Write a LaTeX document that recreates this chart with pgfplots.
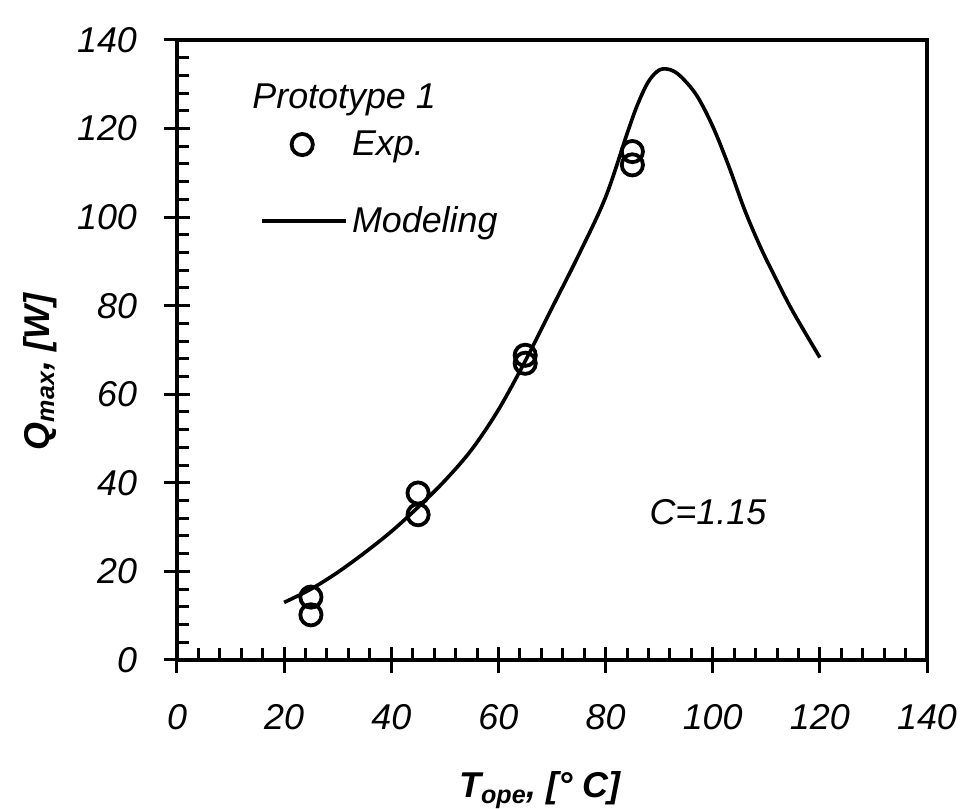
\documentclass[border=0pt]{standalone}
\usepackage{fontspec}
\setmainfont{Liberation Sans}
\usepackage{pgfplots}
\pgfplotsset{compat=1.18}
\pgfplotsset{
  explegend/.style={legend image code/.code={\draw[##1] plot coordinates {(20bp,0bp)};}},
  linelegend/.style={legend image code/.code={\draw[##1] (0bp,0bp) -- (42bp,0bp);}},
}
\begin{document}
\begin{tikzpicture}
\begin{axis}[
  scale only axis, width=375bp, height=310bp,
  xmin=0, xmax=140, ymin=0, ymax=140,
  xtick={0,20,...,140}, ytick={0,20,...,140},
  minor x tick num=4, minor y tick num=4,
  xtick pos=bottom, ytick pos=left,
  axis line style={line width=1.8bp},
  tick style={line width=1.5bp, black},
  tick align=center,
  major tick length=13bp, minor tick length=6bp,
  minor x tick style={yshift=3bp},
  minor y tick style={xshift=3bp},
  /pgf/number format/assume math mode=true,
  ticklabel style={font=\itshape\fontsize{18}{20}\selectfont},
  xticklabel style={yshift=-12bp},
  yticklabel style={xshift=-10bp},
  label style={font=\bfseries\itshape\fontsize{18}{20}\selectfont},
  xlabel={T\textsubscript{ope}, [° C]},
  ylabel={Q\textsubscript{max}, [W]},
  xlabel style={at={(axis description cs:0.484,-0.21)}, anchor=center},
  ylabel style={at={(axis description cs:-0.183,0.465)}, anchor=center, rotate=0},
  clip=false,
  legend style={draw=none, fill=none, at={(axis cs:15.5,120.5)}, anchor=north west,
    font=\itshape\fontsize{18}{20}\selectfont, row sep=20bp, inner sep=0pt},
  legend cell align=left,
]
\addplot[only marks, mark=o, mark size=5.3bp, mark options={line width=1.9bp, black}, explegend]
  coordinates {(25,14.2) (25,10.2) (45,37.7) (45,32.8) (65,68.8) (65,67.0) (85,114.8) (85,111.8)};
\addlegendentry{Exp.}
\addplot[black, line width=1.8bp, smooth, tension=0.55, linelegend]
  coordinates {(20,13) (25,16) (30,19.8) (35,24.2) (40,29) (45,34.5) (50,40.5) (55,47.5)
  (60,56.5) (65,67.5) (70,79.5) (75,91.5) (80,104.5) (84,118.8)
  (86,125.5) (88,130.6) (90,133.2) (92,133.3) (94,131.8) (97,127.5)
  (100,120.5) (103,111.5) (106,101.5) (109,93) (112,85.6) (115,78.6) (120,68.3)};
\addlegendentry{Modeling}
\node[anchor=west, font=\itshape\fontsize{18}{20}\selectfont, inner sep=0pt] at (axis cs:14,126.5) {Prototype 1};
\node[font=\itshape\fontsize{18}{20}\selectfont, inner sep=0pt] at (axis cs:99.1,33.4) {C=1.15};
\coordinate (BBa) at (axis cs:-33.04,-33.65);
\coordinate (BBb) at (axis cs:147.84,149.03);
\end{axis}
\pgfresetboundingbox
\path (BBa) rectangle (BBb);
\end{tikzpicture}
\end{document}
